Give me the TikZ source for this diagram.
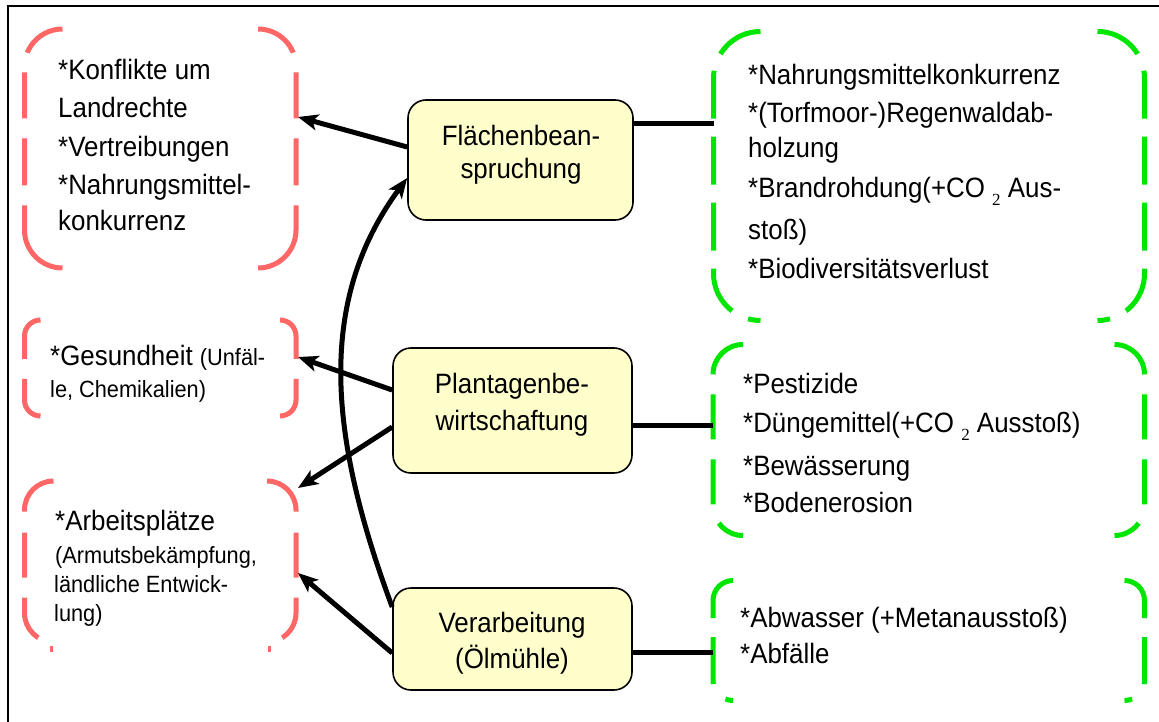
\documentclass[tikz,border=0pt]{standalone}
\usepackage{fontspec}
\setmainfont[FakeStretch=0.925]{Liberation Sans}
\newfontfamily\subfnt{Liberation Serif}
\usetikzlibrary{arrows.meta,calc}
\newcommand\fbig{\fontsize{28}{32}\selectfont}
\newcommand\fsmall{\fontsize{23.5}{27}\selectfont}
\newcommand\cosub{\raisebox{-8pt}{\subfnt\fontsize{17}{17}\selectfont 2}}
\definecolor{rline}{RGB}{255,102,102}
\definecolor{gline}{RGB}{0,230,0}
\definecolor{boxfill}{RGB}{255,255,204}
\newcommand\bpair[7]{%
  \draw[#1, rounded corners=#6pt, dash pattern=#7] (#2+#6,#3) -- (#2,#3) -- (#2,#5) -- (#2+#6,#5);
  \draw[#1, rounded corners=#6pt, dash pattern=#7] (#4-#6,#3) -- (#4,#3) -- (#4,#5) -- (#4-#6,#5);
}
\begin{document}
\begin{tikzpicture}[x=1pt,y=-1pt,
  txtl/.style={anchor=base west, inner sep=0pt, font=\fbig},
  txts/.style={anchor=base west, inner sep=0pt, font=\fsmall},
  txtc/.style={anchor=base, inner sep=0pt, font=\fbig},
  ybox/.style={draw=black, line width=1.6pt, fill=boxfill, rounded corners=18pt, inner sep=0pt},
  conn/.style={draw=black, line width=5pt},
  arr/.style={conn, -{Stealth[length=20pt,width=16pt,inset=5pt]}},
  rbr/.style={draw=rline, line width=5pt},
  gbr/.style={draw=gline, line width=5pt},
]
\path[use as bounding box] (0,0) rectangle (1159,722);
% frame
\draw[line width=2pt] (1159,6.3) -- (8.3,6.3) -- (8.3,722);

% red brackets
\bpair{rbr}{24.5}{29}{296}{268}{38}{on 45pt off 20pt on 46pt off 20pt on 47pt off 20pt on 300pt off 1pt}
\bpair{rbr}{24.5}{320}{296}{416}{16}{on 48pt off 20pt on 200pt off 1pt}
\bpair{rbr}{24.5}{481}{296}{642}{29}{on 47pt off 21pt on 45pt off 20pt on 45pt off 200pt}
\draw[draw=rline, line width=3pt] (51.5,646) -- (51.5,652);
\draw[draw=rline, line width=3pt] (269.5,646) -- (269.5,652);

% green brackets
\bpair{gbr}{713.5}{31.5}{1144.5}{320.5}{47}{on 48pt off 18pt}
\bpair{gbr}{713}{344.5}{1144.5}{535.5}{30}{on 47pt off 20pt on 45pt off 20pt on 45pt off 20pt on 200pt off 1pt}
\bpair{gbr}{713}{580.5}{1144.5}{700.5}{20}{on 49pt off 19pt on 47pt off 20pt on 100pt off 1pt}

% boxes
\node[ybox, minimum width=225pt, minimum height=120pt] (fl) at (520.5,160) {};
\node[ybox, minimum width=239pt, minimum height=125pt] (pl) at (512.5,410.5) {};
\node[ybox, minimum width=239pt, minimum height=102pt] (ver) at (512.5,639) {};
\node[txtc] (flt1) at (521,146) {Flächenbean-};
\node[txtc] (flt2) at (521,179) {spruchung};
\node[txtc] (plt1) at (512,393) {Plantagenbe-};
\node[txtc] (plt2) at (512,430) {wirtschaftung};
\node[txtc] (vert1) at (512,632) {Verarbeitung};
\node[txtc] (vert2) at (512,668) {(Ölmühle)};

% attach points
\coordinate (g1a) at (713.5,124);
\coordinate (g2a) at (713,425);
\coordinate (g3a) at (713,652);
\coordinate (r1a) at (298,117);
\coordinate (r2a) at (298,357);
\coordinate (r3a) at (298,488);
\coordinate (r3b) at (298,573);

% connectors
\draw[conn] (fl.east |- g1a) -- (g1a);
\draw[conn] (pl.east |- g2a) -- (g2a);
\draw[conn] (ver.east |- g3a) -- (g3a);
\draw[arr] ($(fl.west)+(0,-13)$) -- (r1a);
\draw[arr] ($(pl.west)+(0,-20.5)$) -- (r2a);
\draw[arr] ($(pl.west)+(0,16.5)$) -- (r3a);
\draw[arr] ($(ver.west)+(0,14)$) -- (r3b);
\draw[arr] ($(ver.west)+(0,-32)$) .. controls (329,437) and (316,302) .. ($(fl.west)+(0,18)$);

% left texts
\node[txtl] (r1t1) at (58,80) {*Konflikte um};
\node[txtl] (r1t2) at (58,118) {Landrechte};
\node[txtl] (r1t3) at (58,157) {*Vertreibungen};
\node[txtl] (r1t4) at (58,195) {*Nahrungsmittel-};
\node[txtl] (r1t5) at (58,230) {konkurrenz};
\node[txtl] (r2t1) at (50,365) {*Gesundheit {\fsmall(Unfäl-}};
\node[txts] (r2t2) at (50,397) {le, Chemikalien)};
\node[txtl] (r3t1) at (55,530) {*Arbeitsplätze};
\node[txts] (r3t2) at (55,563) {(Armutsbekämpfung,};
\node[txts] (r3t3) at (54,592) {ländliche Entwick-};
\node[txts] (r3t4) at (54,621) {lung)};

% right texts
\node[txtl] (g1t1) at (748,85) {*Nahrungsmittelkonkurrenz};
\node[txtl] (g1t2) at (748,123) {*(Torfmoor-)Regenwaldab-};
\node[txtl] (g1t3) at (748,158) {holzung};
\node[txtl] (g1t4) at (748,198) {*Brandrohdung(+CO \cosub{} Aus-};
\node[txtl] (g1t5) at (748,240) {stoß)};
\node[txtl] (g1t6) at (748,278) {*Biodiversitätsverlust};
\node[txtl] (g2t1) at (743,393) {*Pestizide};
\node[txtl] (g2t2) at (743,432) {*Düngemittel(+CO \cosub{} Ausstoß)};
\node[txtl] (g2t3) at (743,475) {*Bewässerung};
\node[txtl] (g2t4) at (743,512) {*Bodenerosion};
\node[txtl] (g3t1) at (740,627) {*Abwasser (+Metanausstoß)};
\node[txtl] (g3t2) at (740,663) {*Abfälle};
\end{tikzpicture}
\end{document}
